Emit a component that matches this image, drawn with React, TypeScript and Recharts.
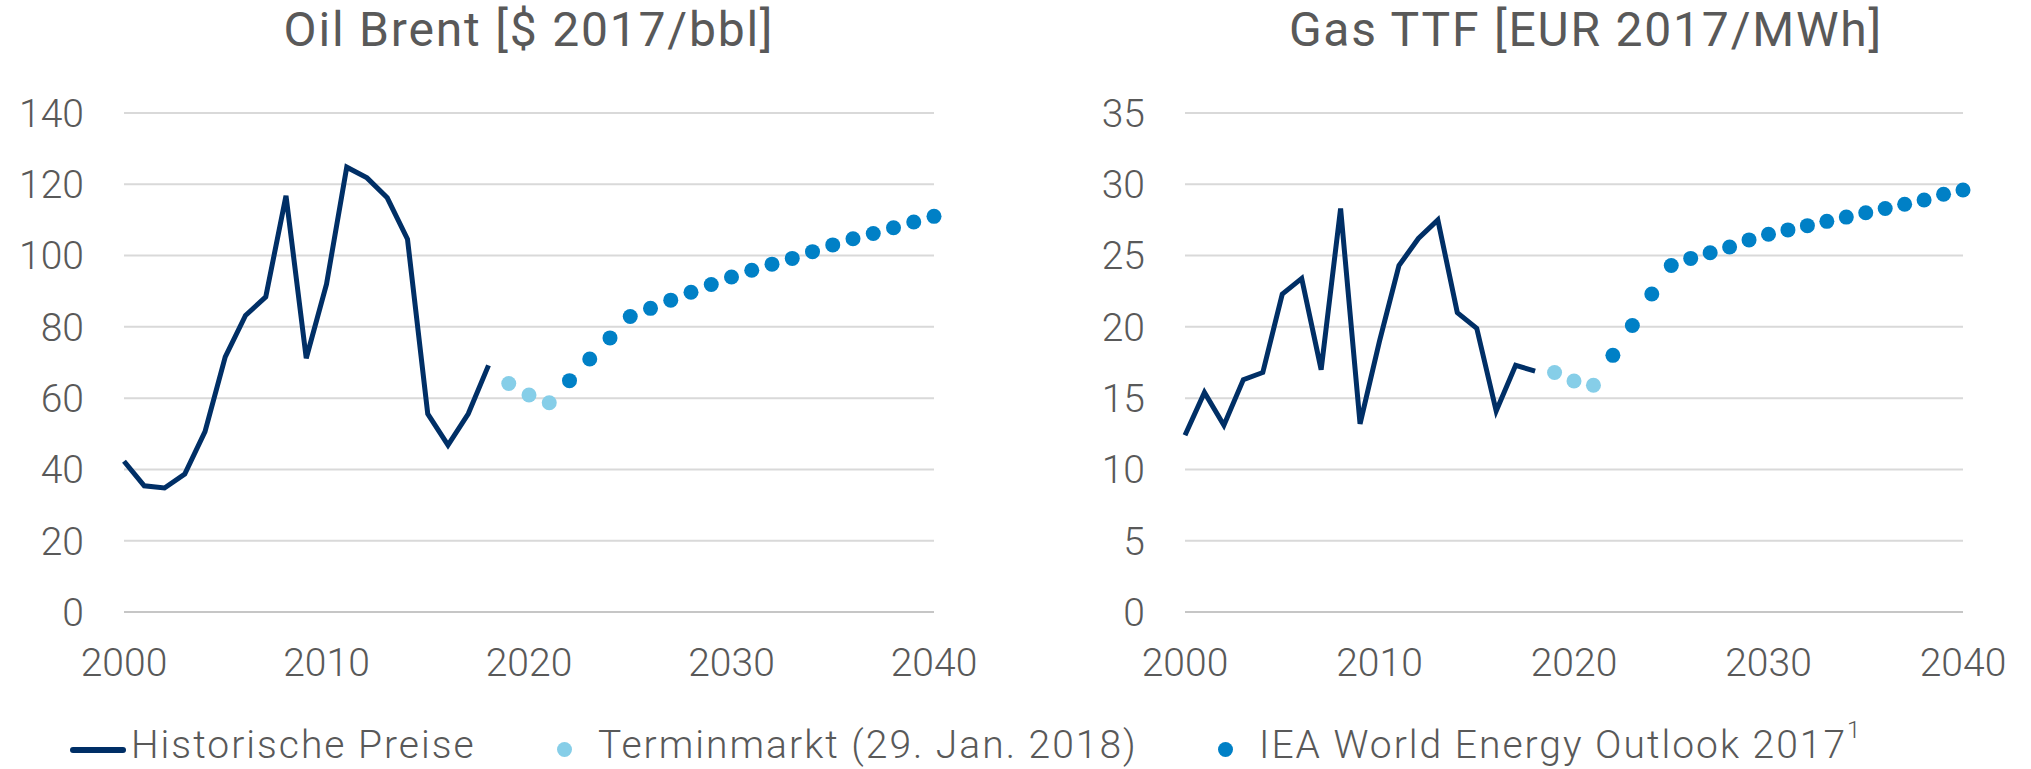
import { LineChart, Line, XAxis, YAxis, CartesianGrid } from 'recharts';

const FONT = 'Roboto, "Open Sans", sans-serif';
const TEXT = '#595959';
const NAVY = '#002F66';
const LIGHT = '#86CEE8';
const MID = '#0080C6';

// x categories (years)
const histYears = [2000, 2001, 2002, 2003, 2004, 2005, 2006, 2007, 2008, 2009, 2010, 2011, 2012, 2013, 2014, 2015, 2016, 2017, 2018];
const termYears = [2019, 2020, 2021];
const ieaYears = [2022, 2023, 2024, 2025, 2026, 2027, 2028, 2029, 2030, 2031, 2032, 2033, 2034, 2035, 2036, 2037, 2038, 2039, 2040];
const xTicks = [2000, 2010, 2020, 2030, 2040];

// Oil Brent [$ 2017/bbl]
const oilHist = [42.3, 35.4, 34.8, 38.7, 50.6, 71.6, 83.2, 88.4, 116.8, 71.2, 92, 124.8, 121.8, 116.2, 104.6, 55.6, 46.8, 55.6, 69.2];
const oilTerm = [64.1, 60.9, 58.7];
const oilIea = [64.9, 71.0, 76.9, 82.9, 85.2, 87.5, 89.7, 91.9, 94.0, 95.9, 97.6, 99.2, 101.1, 103.0, 104.7, 106.2, 107.8, 109.4, 111.0];
const oilTicks = [0, 20, 40, 60, 80, 100, 120, 140];

// Gas TTF [EUR 2017/MWh]
const gasHist = [12.4, 15.4, 13.1, 16.3, 16.8, 22.3, 23.4, 17.0, 28.3, 13.2, 19.0, 24.3, 26.2, 27.5, 21.0, 19.9, 14.1, 17.3, 16.9];
const gasTerm = [16.8, 16.2, 15.9];
const gasIea = [18.0, 20.1, 22.3, 24.3, 24.8, 25.2, 25.6, 26.1, 26.5, 26.8, 27.1, 27.4, 27.7, 28.0, 28.3, 28.6, 28.9, 29.3, 29.6];
const gasTicks = [0, 5, 10, 15, 20, 25, 30, 35];

type Row = { year: number; hist?: number; term?: number; iea?: number };

function buildRows(hist: number[], term: number[], iea: number[]): Row[] {
  const rows: Row[] = [];
  histYears.forEach((y, i) => rows.push({ year: y, hist: hist[i] }));
  termYears.forEach((y, i) => rows.push({ year: y, term: term[i] }));
  ieaYears.forEach((y, i) => rows.push({ year: y, iea: iea[i] }));
  return rows;
}

const tickStyle = { fill: TEXT, fontSize: 39, fontFamily: FONT, fontWeight: 350 };

interface PanelProps {
  title: string;
  rows: Row[];
  ticks: number[];
  left: number;
  width: number;
  yWidth: number;
  rightMargin: number;
  titleShift: number;
}

function Panel({ title, rows, ticks, left, width, yWidth, rightMargin, titleShift }: PanelProps) {
  const plotCenter = yWidth + (width - yWidth - rightMargin) / 2 + titleShift;
  return (
    <div style={{ position: 'absolute', left, top: 0, width, height: 700 }}>
      <div
        style={{
          position: 'absolute',
          left: plotCenter - 400,
          width: 800,
          top: 1,
          textAlign: 'center',
          fontFamily: FONT,
          fontWeight: 380,
          fontSize: 48,
          letterSpacing: 1.8,
          color: TEXT,
          whiteSpace: 'nowrap',
        }}
      >
        {title}
      </div>
      <LineChart
        width={width}
        height={700}
        data={rows}
        margin={{ top: 113, right: rightMargin, bottom: 28, left: 0 }}
        style={{ overflow: 'visible' }}
      >
        <CartesianGrid vertical={false} stroke="#D9D9D9" strokeWidth={2} />
        <XAxis
          dataKey="year"
          type="number"
          domain={[2000, 2040]}
          ticks={xTicks}
          height={60}
          tickSize={0}
          tickMargin={36}
          axisLine={{ stroke: '#C6C6C6', strokeWidth: 2 }}
          tick={tickStyle}
        />
        <YAxis
          domain={[ticks[0], ticks[ticks.length - 1]]}
          ticks={ticks}
          width={yWidth}
          tickSize={0}
          tickMargin={40}
          axisLine={false}
          tickLine={false}
          tick={tickStyle}
        />
        <Line
          dataKey="hist"
          stroke={NAVY}
          strokeWidth={5}
          dot={false}
          connectNulls={false}
          isAnimationActive={false}
        />
        <Line
          dataKey="term"
          stroke="none"
          dot={{ r: 7.5, fill: LIGHT, stroke: 'none' }}
          isAnimationActive={false}
        />
        <Line
          dataKey="iea"
          stroke="none"
          dot={{ r: 7.5, fill: MID, stroke: 'none' }}
          isAnimationActive={false}
        />
      </LineChart>
    </div>
  );
}

function LegendRow() {
  const text = {
    fontFamily: FONT,
    fontWeight: 350,
    fontSize: 39,
    letterSpacing: 2,
    color: TEXT,
    whiteSpace: 'nowrap' as const,
  };
  return (
    <div style={{ position: 'absolute', left: 0, top: 722, width: 2031, height: 47 }}>
      <div style={{ position: 'absolute', left: 70, top: 25, width: 56, height: 6, borderRadius: 3, background: NAVY }} />
      <div style={{ ...text, position: 'absolute', left: 131, top: 0 }}>Historische Preise</div>
      <div style={{ position: 'absolute', left: 557, top: 20, width: 15, height: 15, borderRadius: 8, background: LIGHT }} />
      <div style={{ ...text, position: 'absolute', left: 598, top: 0 }}>Terminmarkt (29. Jan. 2018)</div>
      <div style={{ position: 'absolute', left: 1218, top: 20, width: 15, height: 15, borderRadius: 8, background: MID }} />
      <div style={{ ...text, position: 'absolute', left: 1259, top: 0 }}>
        IEA World Energy Outlook 2017<sup style={{ fontSize: 24, position: 'relative', top: -6 }}>1</sup>
      </div>
    </div>
  );
}

export default function App() {
  const oilRows = buildRows(oilHist, oilTerm, oilIea);
  const gasRows = buildRows(gasHist, gasTerm, gasIea);
  return (
    <div style={{ position: 'absolute', left: 0, top: 0, width: 2031, height: 769, background: '#fff', overflow: 'hidden' }}>
      <Panel title="Oil Brent [$ 2017/bbl]" rows={oilRows} ticks={oilTicks} left={0} width={1000} yWidth={124} rightMargin={66} titleShift={0} />
      <Panel title="Gas TTF [EUR 2017/MWh]" rows={gasRows} ticks={gasTicks} left={1040} width={991} yWidth={145} rightMargin={68} titleShift={12} />
      <LegendRow />
    </div>
  );
}
